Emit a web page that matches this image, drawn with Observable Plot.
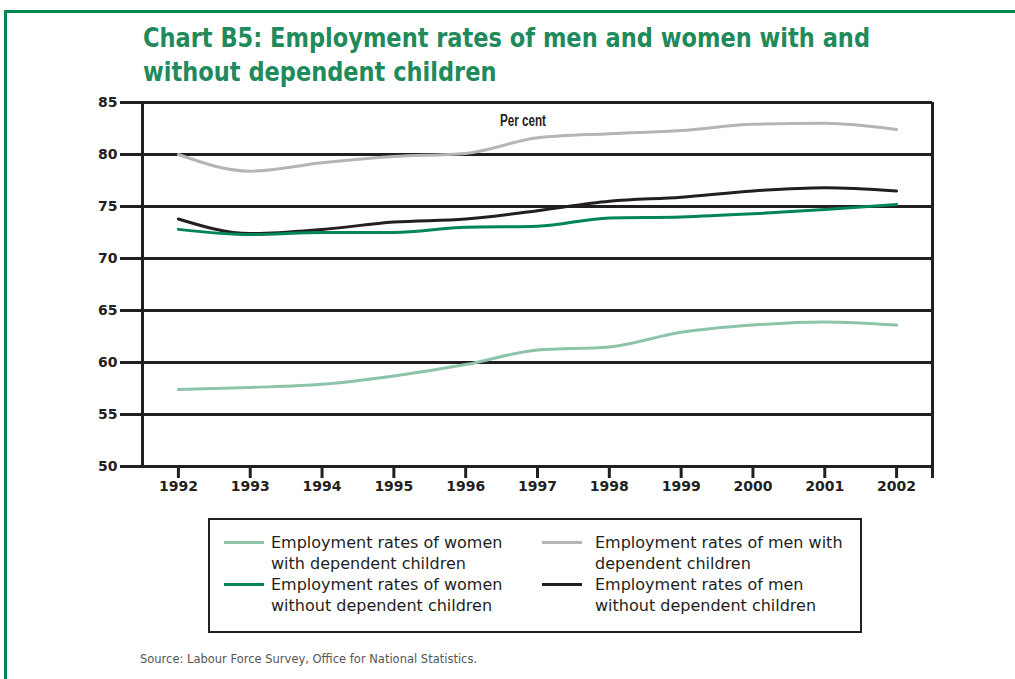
<!DOCTYPE html>
<html>
<head>
<meta charset="utf-8">
<script src="https://cdn.jsdelivr.net/npm/d3@7"></script>
<script src="https://cdn.jsdelivr.net/npm/@observablehq/plot@0.6"></script>
<style>
  html, body { margin: 0; padding: 0; background: #fff; }
  body { width: 1015px; height: 679px; position: relative; overflow: hidden; font-family: "DejaVu Sans", sans-serif; }
  #frame { position: absolute; left: 4px; top: 10px; width: 1020px; height: 680px; border-top: 3px solid #00874f; border-left: 3px solid #00874f; }
  #title { position: absolute; left: 143px; top: 21px; font-family: "DejaVu Sans", sans-serif; font-weight: 700; font-size: 27px; line-height: 34px; color: #1f8a5c; white-space: nowrap; transform-origin: 0 0; }
  #chart { position: absolute; left: 0; top: 90px; }
  #chart svg text { font-weight: 700; }
  #percent { position: absolute; left: 500px; top: 112px; font-family: "Liberation Sans", sans-serif; font-weight: 700; font-size: 16px; color: #231f20; transform-origin: 0 0; }
  #legend { position: absolute; left: 208px; top: 518px; width: 650px; height: 111px; border: 2px solid #231f20; }
  .item { position: absolute; font-size: 16px; line-height: 21px; color: #231f20; white-space: nowrap; }
  .sw { position: absolute; width: 40px; height: 3px; }
  #source { position: absolute; left: 140px; top: 652px; font-size: 11.5px; color: #555; white-space: nowrap; }
</style>
</head>
<body>
<div id="frame"></div>
<div id="title">Chart B5: Employment rates of men and women with and<br>without dependent children</div>
<div id="chart"></div>
<div id="percent">Per cent</div>
<div id="legend"></div>
<div id="source">Source: Labour Force Survey, Office for National Statistics.</div>
<script>
const years = [1992, 1993, 1994, 1995, 1996, 1997, 1998, 1999, 2000, 2001, 2002];
const womenWith    = [57.4, 57.6, 57.9, 58.7, 59.8, 61.2, 61.5, 62.9, 63.6, 63.9, 63.6];
const womenWithout = [72.8, 72.3, 72.5, 72.5, 73.0, 73.1, 73.9, 74.0, 74.3, 74.7, 75.2];
const menWith      = [80.0, 78.4, 79.2, 79.8, 80.1, 81.6, 82.0, 82.3, 82.9, 83.0, 82.4];
const menWithout   = [73.8, 72.4, 72.8, 73.5, 73.8, 74.6, 75.5, 75.9, 76.5, 76.8, 76.5];
const yTicks = [50, 55, 60, 65, 70, 75, 80, 85];

const seriesNames = [
  "Employment rates of women with dependent children",
  "Employment rates of men with dependent children",
  "Employment rates of women without dependent children",
  "Employment rates of men without dependent children"
];
const seriesColors = ["#8cc4aa", "#b5b5b5", "#00845a", "#231f20"];
const seriesValues = [womenWith, menWith, womenWithout, menWithout];
const legendLines = [
  ["Employment rates of women", "with dependent children"],
  ["Employment rates of men with", "dependent children"],
  ["Employment rates of women", "without dependent children"],
  ["Employment rates of men", "without dependent children"]
];

const data = [];
seriesValues.forEach((vals, i) => vals.forEach((v, j) => data.push({series: seriesNames[i], year: years[j], value: v})));

const ink = "#231f20";
const drawOrder = [0, 1, 3, 2];

const chart = Plot.plot({
  width: 960,
  height: 410,
  marginLeft: 142,
  marginRight: 28,
  marginTop: 12,
  marginBottom: 34,
  style: {fontFamily: "DejaVu Sans, sans-serif", fontSize: "14px", color: ink, background: "transparent"},
  x: {domain: [1991.5, 2002.5]},
  y: {domain: [50, 85]},
  marks: [
    Plot.gridY(yTicks, {stroke: ink, strokeOpacity: 1, strokeWidth: 3}),
    Plot.axisY(yTicks, {tickSize: 22, tickPadding: 3, stroke: ink, strokeWidth: 3, fill: ink, label: null}),
    Plot.ruleX([1991.5, 2002.5], {stroke: ink, strokeWidth: 3}),
    Plot.axisX([...years, 2002.5], {tickSize: 12, tickPadding: 3, stroke: ink, strokeWidth: 3, fill: ink, label: null,
      tickFormat: d => Number.isInteger(d) ? String(d) : ""}),
    ...drawOrder.map(i => Plot.line(data.filter(d => d.series === seriesNames[i]), {
      x: "year", y: "value", stroke: seriesColors[i], strokeWidth: 3, curve: "monotone-x"
    }))
  ]
});
document.getElementById("chart").appendChild(chart);

// fit title and "Per cent" widths to the reference
function fitWidth(el, target) {
  const w = el.getBoundingClientRect().width;
  if (w > 0) el.style.transform = `scaleX(${target / w})`;
}
fitWidth(document.getElementById("title"), 727);
fitWidth(document.getElementById("percent"), 46);

// legend
const legend = document.getElementById("legend");
const pos = [
  {sx: 14, tx: 61, ty: 12},
  {sx: 332, tx: 385, ty: 12},
  {sx: 14, tx: 61, ty: 54},
  {sx: 332, tx: 385, ty: 54}
];
seriesNames.forEach((name, i) => {
  const p = pos[i];
  const sw = document.createElement("div");
  sw.className = "sw";
  sw.style.left = p.sx + "px";
  sw.style.top = (p.ty + 9) + "px";
  sw.style.background = seriesColors[i];
  legend.appendChild(sw);
  const t = document.createElement("div");
  t.className = "item";
  t.style.left = p.tx + "px";
  t.style.top = p.ty + "px";
  t.innerHTML = legendLines[i].join("<br>");
  legend.appendChild(t);
});
</script>
</body>
</html>
